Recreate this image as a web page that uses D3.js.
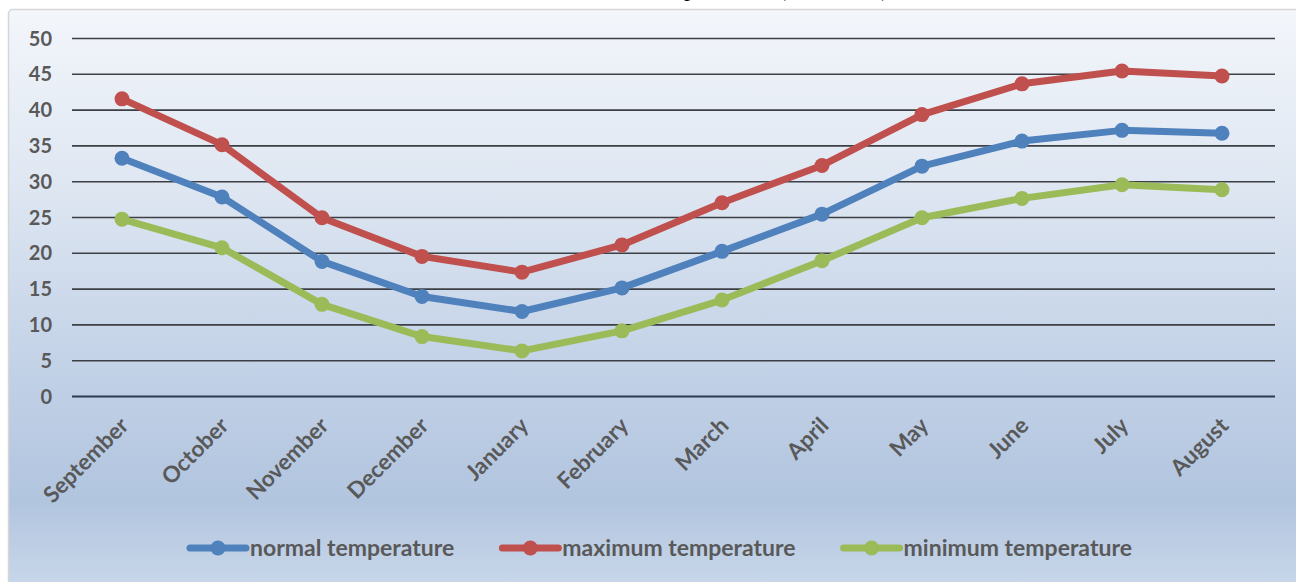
<!DOCTYPE html>
<html>
<head>
<meta charset="utf-8">
<script src="https://cdn.jsdelivr.net/npm/d3@7"></script>
<style>
  html, body { margin: 0; padding: 0; background: #ffffff; }
  svg { display: block; }
</style>
</head>
<body>
<svg id="chart" width="1296" height="582"></svg>
<script>
// Monthly temperature series (°C)
const months = ["September", "October", "November", "December", "January", "February",
                "March", "April", "May", "June", "July", "August"];
const normalTemp  = [33.2, 27.8, 18.8, 13.9, 11.8, 15.1, 20.2, 25.4, 32.1, 35.6, 37.1, 36.7];
const maximumTemp = [41.5, 35.1, 24.9, 19.5, 17.3, 21.1, 27.0, 32.2, 39.3, 43.6, 45.4, 44.7];
const minimumTemp = [24.7, 20.7, 12.8,  8.3,  6.3,  9.1, 13.4, 18.9, 24.9, 27.6, 29.5, 28.8];
const seriesNames = ["normal temperature", "maximum temperature", "minimum temperature"];
const yTicks = [0, 5, 10, 15, 20, 25, 30, 35, 40, 45, 50];

const colors = ["#4f81bd", "#c0504d", "#9bbb59"];
const series = [normalTemp, maximumTemp, minimumTemp].map((values, i) => ({
  name: seriesNames[i], color: colors[i], values
}));

const W = 1296, H = 582;
const plot = { left: 72, right: 1272, top: 38, bottom: 396 };
const svg = d3.select("#chart");
const labelFont = "Lato, 'Open Sans', sans-serif";

// Chart area background with vertical gradient
const defs = svg.append("defs");
const grad = defs.append("linearGradient")
  .attr("id", "bg").attr("gradientUnits", "userSpaceOnUse")
  .attr("x1", 0).attr("y1", 9).attr("x2", 0).attr("y2", 582);
[[0, "#f3f6fb"], [0.3, "#dfe7f2"], [0.65, "#c0d0e6"], [0.86, "#b2c5df"], [1, "#c7d6e9"]]
  .forEach(([o, c]) => grad.append("stop").attr("offset", o).attr("stop-color", c));

svg.append("rect")
  .attr("x", 8.5).attr("y", 9.5).attr("width", W + 20).attr("height", H + 20)
  .attr("rx", 4)
  .attr("fill", "url(#bg)").attr("stroke", "#d6d6d6").attr("stroke-width", 1.5);

// Title (sits above the top edge of the page; only its descenders show)
const title = svg.append("text")
  .attr("y", -4)
  .attr("font-family", "'Liberation Serif', 'DejaVu Serif', serif")
  .attr("font-size", 24).attr("fill", "#000")
  .text("Mean temperatures (in Celsius)");
const pIdx = title.text().indexOf("p");
const pPos = title.node().getStartPositionOfChar(pIdx).x;
title.attr("x", 684 - pPos);

// Scales
const x = d3.scalePoint().domain(months).range([plot.left, plot.right]).padding(0.5);
const y = d3.scaleLinear().domain([0, 50]).range([plot.bottom, plot.top]);

// Y axis with gridlines
const yAxis = svg.append("g")
  .attr("transform", `translate(${plot.left},0)`)
  .call(d3.axisLeft(y).tickValues(yTicks).tickSize(-(plot.right + 3 - plot.left)).tickPadding(20));
yAxis.select(".domain").remove();
yAxis.selectAll(".tick line")
  .attr("stroke", d => d === 0 ? "#2e3b50" : "#3c3f44")
  .attr("stroke-width", d => d === 0 ? 2 : 1.6);
yAxis.selectAll(".tick text")
  .attr("font-family", labelFont)
  .attr("font-weight", 700).attr("font-size", 20)
  .attr("fill", "#595959").attr("dy", "0.35em");

// X category labels, rotated
svg.append("g").selectAll("text")
  .data(months).join("text")
  .attr("transform", d => `translate(${x(d) + 8},${plot.bottom + 31}) rotate(-45)`)
  .attr("text-anchor", "end")
  .attr("font-family", labelFont)
  .attr("font-weight", 700).attr("font-size", 22.5)
  .attr("fill", "#595959")
  .text(d => d);

// Lines and markers
const line = d3.line()
  .x((d, i) => x(months[i]))
  .y(d => y(d));

const sg = svg.append("g").selectAll("g")
  .data(series).join("g");
sg.append("path")
  .attr("d", d => line(d.values))
  .attr("fill", "none").attr("stroke", d => d.color)
  .attr("stroke-width", 7).attr("stroke-linejoin", "round").attr("stroke-linecap", "round");
sg.selectAll("circle")
  .data(d => d.values.map((v, i) => ({ v, i, color: d.color })))
  .join("circle")
  .attr("cx", d => x(months[d.i])).attr("cy", d => y(d.v))
  .attr("r", 7.5).attr("fill", d => d.color);

// Legend
const legend = svg.append("g");
let lx = 190;
const ly = 548;
series.forEach(s => {
  const g = legend.append("g");
  g.append("line").attr("x1", lx).attr("x2", lx + 56).attr("y1", ly).attr("y2", ly)
    .attr("stroke", s.color).attr("stroke-width", 7).attr("stroke-linecap", "round");
  g.append("circle").attr("cx", lx + 28).attr("cy", ly).attr("r", 7.5).attr("fill", s.color);
  const t = g.append("text")
    .attr("x", lx + 60).attr("y", ly).attr("dy", "0.35em")
    .attr("font-family", labelFont)
    .attr("font-weight", 700).attr("font-size", 23)
    .attr("fill", "#595959")
    .text(s.name);
  lx += 60 + t.node().getComputedTextLength() + 48;
});
</script>
</body>
</html>
